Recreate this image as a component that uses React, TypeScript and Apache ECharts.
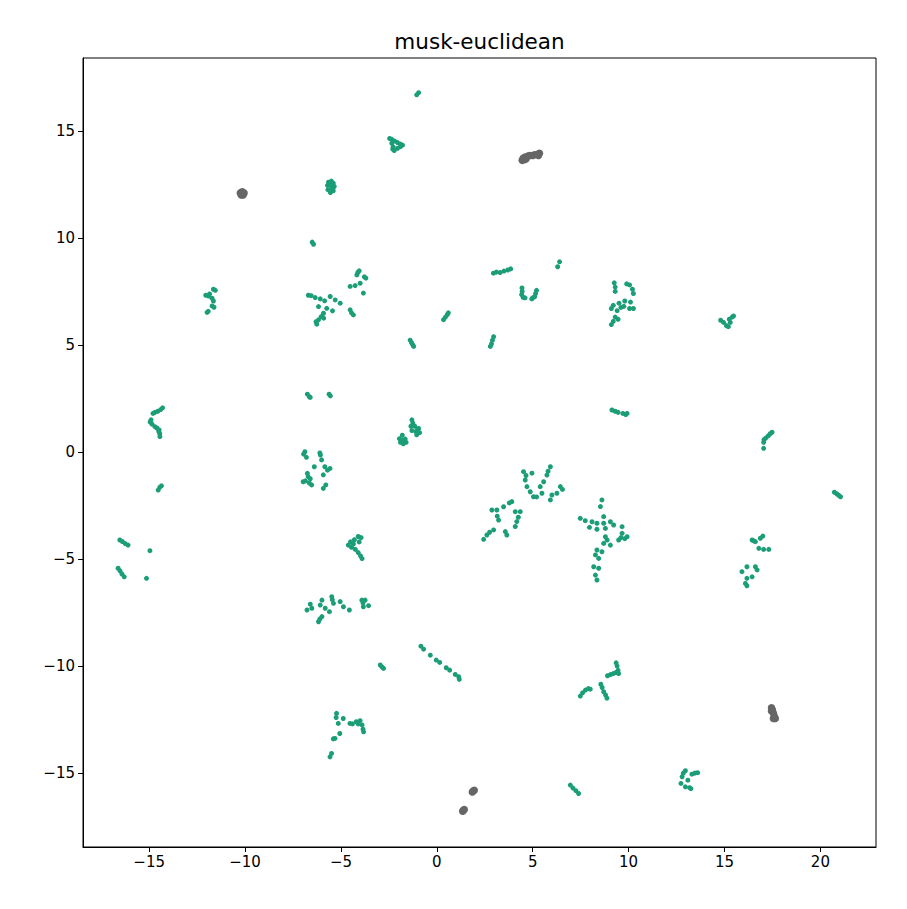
import React, { useEffect, useRef } from "react";
import * as echarts from "echarts";

const titleText = "musk-euclidean";
const xTicks = [-15, -10, -5, 0, 5, 10, 15, 20];
const yTicks = [-15, -10, -5, 0, 5, 10, 15];

// green clusters (class 0)
const greenUpper: number[][] = [
  [-1.05, 16.68], [-0.95, 16.78],
  [-2.46, 14.64], [-2.35, 14.6], [-2.2, 14.52], [-2.05, 14.45], [-1.9, 14.38], [-1.79, 14.33], [-1.9, 14.26], [-2.05, 14.18], [-2.22, 14.08], [-2.28, 14.25], [-2.35, 14.42], [-2.3, 14.15],
  [-5.65, 12.6], [-5.5, 12.65], [-5.4, 12.55], [-5.35, 12.4], [-5.4, 12.2], [-5.55, 12.12], [-5.68, 12.25], [-5.7, 12.45], [-5.5, 12.4], [-5.45, 12.3], [-5.6, 12.5],
  [-6.5, 9.8], [-6.43, 9.7],
  [-11.65, 7.6], [-11.55, 7.55], [-11.85, 7.38], [-12.05, 7.32], [-11.9, 7.28], [-11.72, 7.18], [-11.65, 7.05], [-11.72, 6.82], [-11.62, 6.76], [-11.98, 6.52], [-11.92, 6.57],
  [-6.55, 7.3], [-6.34, 7.21], [-6.08, 7.15], [-5.85, 7.06], [-6.17, 6.79], [-5.74, 6.71], [-5.91, 6.48], [-6.03, 6.32], [-6.17, 6.17], [-6.26, 5.97], [-6.3, 6.08], [-6.7, 7.32], [-5.9, 6.25],
  [-5.56, 7.26], [-5.3, 7.1], [-5.04, 6.95], [-5.44, 6.59], [-4.52, 6.64], [-4.35, 6.4], [-4.45, 6.5],
  [-4.52, 7.73], [-4.26, 7.77], [-4.0, 7.88], [-4.17, 8.27], [-4.05, 8.46], [-3.7, 8.12], [-3.83, 7.42], [-3.78, 8.18], [-4.12, 8.38],
  [2.95, 8.35], [3.1, 8.4], [3.3, 8.38], [3.5, 8.45], [3.7, 8.5], [3.85, 8.55],
  [6.4, 8.88], [6.3, 8.65],
  [4.44, 7.66], [4.45, 7.5], [4.42, 7.35], [4.5, 7.22], [4.6, 7.2], [5.0, 7.2], [5.1, 7.25], [5.15, 7.4], [5.2, 7.55], [4.95, 7.15],
  [0.35, 6.18], [0.45, 6.3], [0.55, 6.42], [0.6, 6.5],
  [9.25, 7.9], [9.3, 7.7], [9.3, 7.5], [9.9, 7.85], [10.05, 7.8], [10.2, 7.6], [10.25, 7.4], [10.1, 7.0], [9.8, 7.05], [9.5, 6.95], [9.2, 6.85], [9.1, 6.7], [9.4, 6.6], [9.6, 6.75], [9.75, 6.8], [10.25, 6.7], [10.05, 6.7], [9.3, 6.3], [9.2, 6.1], [9.1, 5.95], [9.45, 6.2],
  [14.8, 6.15], [14.95, 6.05], [15.1, 5.9], [15.2, 5.85], [15.3, 6.05], [15.4, 6.3], [15.47, 6.35], [15.25, 6.2],
  [-1.39, 5.22], [-1.32, 5.1], [-1.25, 5.0], [-1.21, 4.93],
  [2.96, 5.38], [2.9, 5.22], [2.85, 5.05], [2.79, 4.93],
  [-6.75, 2.7], [-6.65, 2.58], [-6.6, 2.55], [-5.62, 2.7], [-5.55, 2.62],
];

const greenMiddle: number[][] = [
  [-14.3, 2.06], [-14.4, 1.98], [-14.55, 1.9], [-14.7, 1.85], [-14.8, 1.8], [-14.9, 1.5], [-14.95, 1.4], [-14.85, 1.3], [-14.7, 1.18], [-14.6, 1.12], [-14.48, 1.03], [-14.45, 0.85], [-14.44, 0.72], [-14.5, 0.95],
  [-14.36, -1.58], [-14.45, -1.65], [-14.53, -1.78],
  [-6.88, 0.01], [-6.95, -0.1], [-6.8, -0.25], [-6.07, -0.14], [-6.1, -0.05], [-6.01, -0.37], [-6.39, -0.69], [-5.84, -0.69], [-5.57, -0.77], [-5.7, -0.85], [-5.92, -1.07], [-6.97, -1.39], [-6.85, -1.35], [-6.71, -1.15], [-6.6, -1.25], [-6.53, -1.54], [-6.65, -1.45], [-5.79, -1.54], [-5.92, -1.7], [-6.75, -1.0],
  [-1.3, 1.5], [-1.25, 1.35], [-1.15, 1.2], [-1.0, 1.05], [-0.9, 0.9], [-1.1, 0.95], [-1.3, 1.0], [-1.35, 1.2], [-0.95, 1.1], [-1.05, 0.8], [-1.8, 0.78], [-1.95, 0.62], [-1.9, 0.45], [-1.75, 0.38], [-1.6, 0.45], [-1.65, 0.6], [-1.8, 0.55],
  [9.13, 1.96], [9.3, 1.9], [9.45, 1.85], [9.7, 1.8], [9.85, 1.75], [9.92, 1.8],
  [17.48, 0.92], [17.38, 0.85], [17.28, 0.75], [17.15, 0.65], [17.06, 0.58], [17.04, 0.45], [17.04, 0.17],
  [20.73, -1.88], [20.85, -1.95], [20.95, -2.02], [21.05, -2.09],
  [4.52, -0.92], [4.96, -0.99], [4.61, -1.31], [4.7, -1.62], [4.87, -1.86], [5.04, -2.09], [5.92, -0.69], [5.74, -1.08], [5.57, -1.39], [5.39, -1.62], [5.48, -1.93], [6.0, -2.01], [6.44, -1.62], [6.26, -1.93], [5.92, -2.24], [4.65, -1.1], [5.2, -2.1], [5.8, -0.9], [6.55, -1.75],
  [2.87, -2.71], [3.13, -2.71], [3.22, -3.18], [3.48, -2.56], [3.91, -2.32], [4.09, -2.79], [4.35, -2.79], [4.17, -3.25], [4.09, -3.48], [3.57, -3.72], [3.65, -3.88], [2.96, -3.64], [2.61, -3.88], [2.44, -4.08], [3.15, -3.0], [3.78, -2.38], [2.75, -3.75], [4.25, -3.05],
  [8.61, -2.24], [8.53, -2.55], [7.48, -3.1], [7.74, -3.21], [8.09, -3.26], [8.35, -3.33], [8.7, -3.33], [8.7, -3.02], [9.05, -3.26], [9.22, -3.41], [7.96, -3.52], [8.35, -3.61], [8.79, -3.57], [9.66, -3.49], [9.66, -3.8], [9.48, -4.11], [9.92, -3.96], [8.79, -3.96], [8.88, -4.11], [9.05, -4.35], [8.7, -4.27], [8.35, -4.58], [8.61, -4.66], [8.27, -4.81], [8.44, -4.97], [8.18, -5.36], [8.44, -5.43], [8.27, -5.75], [8.35, -5.98], [9.8, -4.05], [9.6, -4.0],
  [-4.1, -3.95], [-3.95, -4.0], [-4.3, -4.1], [-4.5, -4.2], [-4.62, -4.35], [-4.45, -4.45], [-4.25, -4.55], [-4.1, -4.7], [-3.98, -4.85], [-3.9, -4.98], [-4.35, -4.3], [-4.05, -4.2],
  [16.44, -4.11], [16.61, -4.19], [16.87, -4.03], [17.0, -3.93], [16.79, -4.5], [17.04, -4.55], [17.31, -4.55], [16.52, -4.15],
  [15.91, -5.59], [16.17, -5.36], [16.61, -5.36], [16.7, -5.51], [16.44, -5.83], [16.17, -5.9], [16.09, -6.14], [16.17, -6.25],
  [-16.53, -4.11], [-16.4, -4.18], [-16.25, -4.28], [-16.1, -4.35], [-14.96, -4.61], [-16.62, -5.43], [-16.52, -5.55], [-16.42, -5.7], [-16.3, -5.83], [-15.14, -5.9],
];

const greenLower: number[][] = [
  [-6.77, -7.38], [-6.52, -7.3], [-6.6, -7.11], [-5.99, -6.92], [-6.08, -7.15], [-5.82, -7.3], [-5.99, -7.69], [-6.17, -7.93], [-6.1, -7.8], [-5.48, -6.76], [-5.39, -7.07], [-5.6, -7.46], [-5.04, -6.99], [-4.87, -7.23], [-4.56, -7.38], [-5.45, -6.9],
  [-3.91, -6.92], [-3.74, -6.92], [-3.56, -7.18], [-3.83, -7.23], [-3.85, -7.05],
  [-2.95, -9.95], [-2.85, -10.05], [-2.78, -10.11],
  [-0.83, -9.07], [-0.69, -9.21], [-0.34, -9.49], [-0.03, -9.72], [0.15, -9.83], [0.49, -10.08], [0.67, -10.19], [0.96, -10.39], [1.14, -10.5], [1.17, -10.62],
  [-5.23, -12.21], [-5.14, -12.68], [-4.88, -12.45], [-4.53, -12.68], [-5.06, -13.15], [-5.31, -13.38], [-5.49, -14.08], [-5.57, -14.24], [-5.25, -12.4], [-5.4, -13.4],
  [-4.4, -12.7], [-4.2, -12.6], [-4.0, -12.55], [-3.9, -12.75], [-3.85, -12.95], [-3.82, -13.07], [-4.1, -12.7],
  [6.96, -15.56], [7.1, -15.7], [7.25, -15.82], [7.39, -15.95],
  [7.48, -11.4], [7.6, -11.25], [7.75, -11.12], [7.9, -11.05], [8.0, -11.08], [8.55, -10.85], [8.62, -11.0], [8.7, -11.2], [8.8, -11.35], [8.87, -11.5], [8.9, -10.45], [9.05, -10.4], [9.2, -10.35], [9.35, -10.3], [9.45, -10.2], [9.4, -10.0], [9.35, -9.85], [9.48, -10.35],
  [12.96, -14.89], [12.79, -15.17], [12.73, -15.48], [12.96, -15.64], [13.25, -15.72], [13.3, -15.05], [13.6, -14.98], [13.09, -15.33], [13.45, -15.0], [13.18, -15.68], [12.85, -15.0],
];

// gray clusters (class 1)
const grayPoints: number[][] = [
  [-10.25, 12.1], [-10.15, 12.15], [-10.05, 12.1], [-10.1, 12.0], [-10.2, 12.0], [-10.15, 12.06],
  [4.45, 13.62], [4.5, 13.72], [4.6, 13.78], [4.65, 13.68], [4.75, 13.82], [4.85, 13.85], [5.0, 13.85], [5.1, 13.88], [5.25, 13.9], [5.35, 13.95], [5.3, 13.85], [4.55, 13.65],
  [17.45, -11.95], [17.5, -12.05], [17.45, -12.1], [17.55, -12.2], [17.6, -12.35], [17.65, -12.45], [17.55, -12.45],
  [1.9, -15.84], [1.95, -15.8], [1.85, -15.88],
  [1.38, -16.73], [1.43, -16.7], [1.35, -16.78],
];

const GREEN = "#1b9e77";
const GRAY = "#666666";
const FONT = "DejaVu Sans";

export default function App() {
  const ref = useRef<HTMLDivElement>(null);
  useEffect(() => {
    if (!ref.current) return;
    const chart = echarts.init(ref.current, null, { renderer: "svg" });
    const fmt = (v: number) => String(v).replace("-", "\u2212");
    const greenAll = [...greenUpper, ...greenMiddle, ...greenLower];
    chart.setOption({
      animation: false,
      backgroundColor: "#ffffff",
      grid: {
        left: 83,
        right: 31,
        top: 58,
        bottom: 62,
        show: true,
        borderColor: "#000000",
        borderWidth: 1,
        backgroundColor: "transparent",
      },
      graphic: [
        {
          type: "text",
          x: 479.5,
          y: 41,
          style: {
            text: titleText,
            font: `21.5px '${FONT}'`,
            fill: "#000000",
            textAlign: "center",
            textVerticalAlign: "middle",
          },
        },
      ],
      xAxis: {
        type: "value",
        min: -18.45,
        max: 22.9,
        axisLine: { show: true, onZero: false, lineStyle: { color: "#000000", width: 1 } },
        splitLine: { show: false },
        axisTick: {
          show: true,
          customValues: xTicks,
          length: 5,
          lineStyle: { color: "#000000", width: 1 },
        },
        axisLabel: {
          customValues: xTicks,
          formatter: fmt,
          margin: 7,
          color: "#000000",
          fontFamily: FONT,
          fontSize: 15,
        },
      },
      yAxis: {
        type: "value",
        min: -18.45,
        max: 18.4,
        axisLine: { show: true, onZero: false, lineStyle: { color: "#000000", width: 1 } },
        splitLine: { show: false },
        axisTick: {
          show: true,
          customValues: yTicks,
          length: 5,
          lineStyle: { color: "#000000", width: 1 },
        },
        axisLabel: {
          customValues: yTicks,
          formatter: fmt,
          margin: 8,
          color: "#000000",
          fontFamily: FONT,
          fontSize: 15,
        },
      },
      series: [
        {
          type: "scatter",
          data: greenAll,
          symbolSize: 5,
          itemStyle: { color: GREEN, opacity: 1 },
        },
        {
          type: "scatter",
          data: grayPoints,
          symbolSize: 7.5,
          itemStyle: { color: GRAY, opacity: 1 },
        },
      ],
    });
    return () => chart.dispose();
  }, []);
  return (
    <div
      ref={ref}
      style={{ position: "fixed", left: 0, top: 0, width: 907, height: 909, background: "#fff" }}
    />
  );
}
